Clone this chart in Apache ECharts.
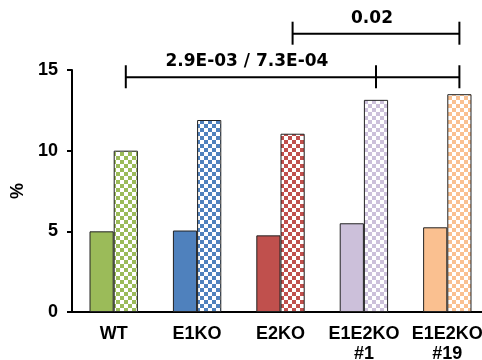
<!DOCTYPE html>
<html>
<head>
<meta charset="utf-8">
<script src="https://cdn.jsdelivr.net/npm/echarts@6/dist/echarts.min.js"></script>
<style>
  html, body { margin: 0; padding: 0; background: #fff; }
  #main { width: 482px; height: 360px; }
</style>
</head>
<body>
<div id="main"></div>
<script>
const categories = ['WT', 'E1KO', 'E2KO', 'E1E2KO\n#1', 'E1E2KO\n#19'];
const solidValues = [5.0, 5.05, 4.75, 5.5, 5.25];
const checkValues = [10.0, 11.9, 11.05, 13.15, 13.5];
const barColors = ['#9BBB59', '#4F81BD', '#C0504D', '#CCC0DA', '#FAC090'];

// significance brackets: category indexes of the ticks, height in %, text
const brackets = [
  { ticks: [0, 3, 4], labelBetween: [0, 3], value: 14.55, text: '2.9E-03 / 7.3E-04' },
  { ticks: [2, 4], labelBetween: [2, 4], value: 17.25, text: '0.02' }
];

const FONT = '"Liberation Sans", Arial, sans-serif';
const NOTE_FONT = '"DejaVu Sans", sans-serif';

function checker(color) {
  const c = document.createElement('canvas');
  c.width = 8; c.height = 8;
  const ctx = c.getContext('2d');
  ctx.fillStyle = '#fff';
  ctx.fillRect(0, 0, 8, 8);
  ctx.fillStyle = color;
  ctx.fillRect(0, 0, 4, 4);
  ctx.fillRect(4, 4, 4, 4);
  return { image: c, repeat: 'repeat' };
}

const chart = echarts.init(document.getElementById('main'));

const option = {
  animation: false,
  backgroundColor: '#fff',
  grid: { left: 72, right: -7, top: 70, bottom: 48, outerBoundsMode: 'none', containLabel: false },
  xAxis: {
    type: 'category',
    data: categories,
    axisLine: { lineStyle: { color: '#000', width: 2 } },
    axisTick: { length: 4, lineStyle: { color: '#000', width: 2 } },
    axisLabel: {
      color: '#000', fontFamily: FONT, fontWeight: 'bold', fontSize: 18,
      margin: 12, lineHeight: 20, interval: 0
    }
  },
  yAxis: {
    type: 'value',
    min: 0, max: 15, interval: 5,
    name: '%',
    nameLocation: 'middle',
    nameGap: 41,
    nameRotate: 90,
    nameTextStyle: { color: '#000', fontFamily: FONT, fontWeight: 'bold', fontSize: 18 },
    axisLine: { show: true, lineStyle: { color: '#000', width: 2 } },
    axisTick: { show: true, length: 5, lineStyle: { color: '#000', width: 2 } },
    axisLabel: { color: '#000', fontFamily: FONT, fontWeight: 'bold', fontSize: 18, margin: 14 },
    splitLine: { show: false }
  },
  series: [
    {
      type: 'bar',
      barGap: '0%',
      barCategoryGap: '42%',
      data: solidValues.map((v, i) => ({
        value: v,
        itemStyle: { color: barColors[i] }
      })),
      itemStyle: { borderColor: '#222', borderWidth: 1 }
    },
    {
      type: 'bar',
      data: checkValues.map((v, i) => ({
        value: v,
        itemStyle: { color: checker(barColors[i]) }
      })),
      itemStyle: { borderColor: '#222', borderWidth: 1 }
    }
  ]
};

chart.setOption(option);

// brackets sit over the centre of the checkered bars
const x0 = chart.convertToPixel({ xAxisIndex: 0 }, 0);
const x1 = chart.convertToPixel({ xAxisIndex: 0 }, 1);
const band = x1 - x0;
const barW = band * (1 - 0.42) / 2;
const px = (i) => chart.convertToPixel({ xAxisIndex: 0 }, i) + barW / 2;

const elements = [];
brackets.forEach((b) => {
  const y = chart.convertToPixel({ yAxisIndex: 0 }, b.value);
  const xs = b.ticks.map(px);
  const style = { stroke: '#000', lineWidth: 2 };
  elements.push({ type: 'line', shape: { x1: Math.min(...xs), y1: y, x2: Math.max(...xs), y2: y }, style });
  xs.forEach((x) => {
    elements.push({ type: 'line', shape: { x1: x, y1: y - 12, x2: x, y2: y + 11 }, style });
  });
  const lx = (px(b.labelBetween[0]) + px(b.labelBetween[1])) / 2;
  elements.push({
    type: 'text',
    x: lx - 4, y: y - 7,
    style: {
      text: b.text, fill: '#000', fontFamily: NOTE_FONT, fontWeight: 'bold', fontSize: 17,
      align: 'center', verticalAlign: 'bottom'
    }
  });
});

chart.setOption({ graphic: elements });
</script>
</body>
</html>
